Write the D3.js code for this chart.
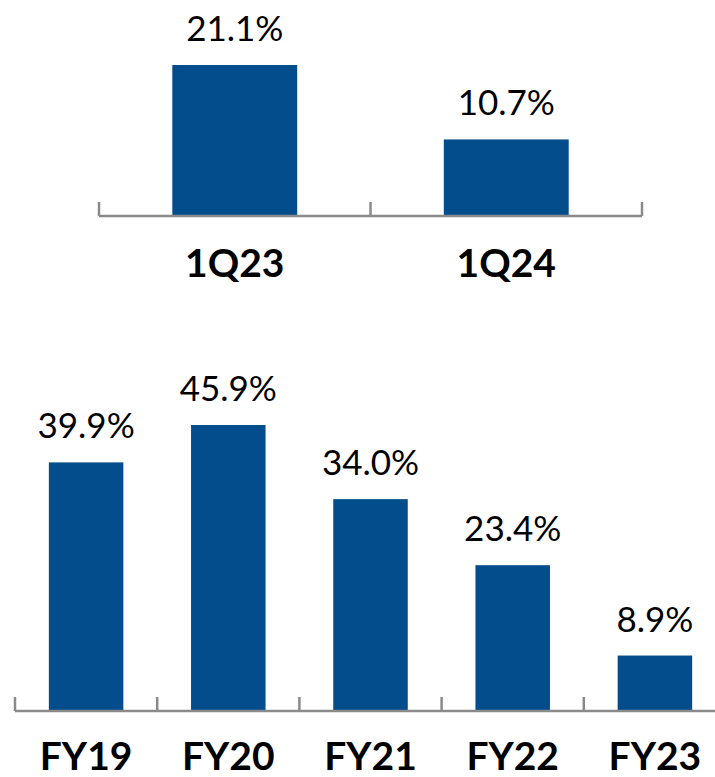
<!DOCTYPE html>
<html>
<head>
<meta charset="utf-8">
<script src="https://cdn.jsdelivr.net/npm/d3@7"></script>
<style>
  html, body { margin: 0; padding: 0; background: #fff; }
  svg { display: block; }
</style>
</head>
<body>
<svg id="chart" width="715" height="777"></svg>
<script>
// Data
const quarterCategories = ["1Q23", "1Q24"];
const quarterValues = [21.1, 10.7];
const yearCategories = ["FY19", "FY20", "FY21", "FY22", "FY23"];
const yearValues = [39.9, 45.9, 34.0, 23.4, 8.9];

const barColor = "#044d8c";
const axisColor = "#8a8a8a";
const svg = d3.select("#chart");
const fmt = v => v.toFixed(1) + "%";

function drawPanel(cfg) {
  const x = d3.scaleBand().domain(cfg.categories).range([cfg.x0, cfg.x1])
    .paddingInner(cfg.pad).paddingOuter(cfg.pad / 2);
  const y = d3.scaleLinear().domain([0, cfg.maxVal]).range([cfg.base, cfg.topY]);
  const g = svg.append("g");
  const data = cfg.categories.map((c, i) => ({ c, v: cfg.values[i] }));

  g.selectAll("rect.bar").data(data).join("rect")
    .attr("class", "bar")
    .attr("x", d => x(d.c))
    .attr("width", x.bandwidth())
    .attr("y", d => y(d.v))
    .attr("height", d => y(0) - y(d.v))
    .attr("fill", barColor);

  // axis line
  g.append("line")
    .attr("x1", cfg.x0).attr("x2", cfg.x1)
    .attr("y1", y(0)).attr("y2", y(0))
    .attr("stroke", axisColor).attr("stroke-width", 2.5);

  // tick marks at band boundaries
  const bounds = d3.range(cfg.categories.length + 1).map(i => cfg.x0 + i * x.step());
  g.selectAll("line.tick").data(bounds).join("line")
    .attr("class", "tick")
    .attr("x1", d => d).attr("x2", d => d)
    .attr("y1", y(0)).attr("y2", y(0) - 14)
    .attr("stroke", axisColor).attr("stroke-width", 2.5);

  // value labels
  g.selectAll("text.val").data(data).join("text")
    .attr("class", "val")
    .attr("x", d => x(d.c) + x.bandwidth() / 2)
    .attr("y", d => y(d.v) - 24)
    .attr("text-anchor", "middle")
    .attr("font-family", "Lato, 'Open Sans', sans-serif")
    .attr("font-size", 35)
    .attr("fill", "#000")
    .text(d => fmt(d.v));

  // category labels
  g.selectAll("text.cat").data(data).join("text")
    .attr("class", "cat")
    .attr("x", d => x(d.c) + x.bandwidth() / 2)
    .attr("y", cfg.catY)
    .attr("text-anchor", "middle")
    .attr("font-family", "Lato, 'Open Sans', sans-serif")
    .attr("font-weight", "bold")
    .attr("font-size", 39)
    .attr("fill", "#000")
    .text(d => d.c);
}

drawPanel({
  categories: quarterCategories, values: quarterValues, maxVal: 21.1,
  x0: 99, x1: 642, pad: 0.54, base: 216, topY: 65, catY: 277
});

drawPanel({
  categories: yearCategories, values: yearValues, maxVal: 45.9,
  x0: 15, x1: 726, pad: 0.476, base: 711, topY: 425, catY: 770
});
</script>
</body>
</html>
